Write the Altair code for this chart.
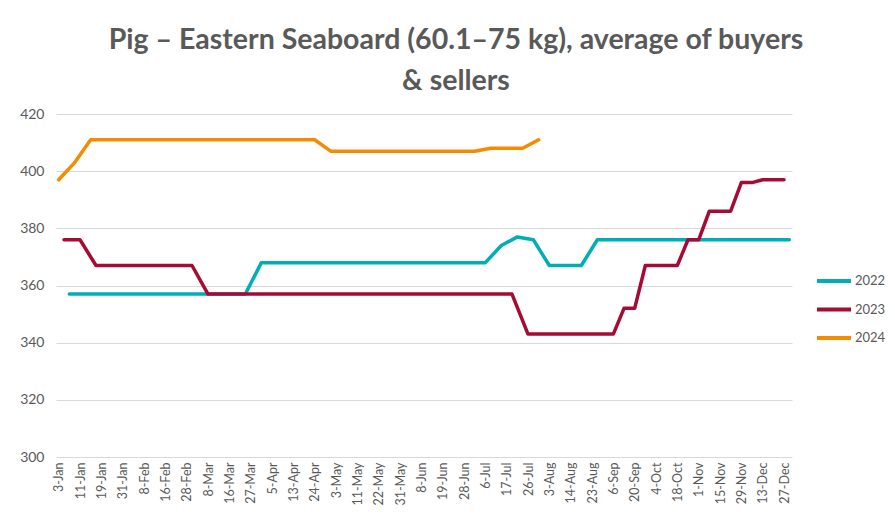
import altair as alt
import pandas as pd

# Category positions (union of auction dates, index) and tick labels (every 4th category)
tick_labels = ["3-Jan", "11-Jan", "19-Jan", "31-Jan", "8-Feb", "16-Feb", "28-Feb", "8-Mar",
               "16-Mar", "27-Mar", "5-Apr", "13-Apr", "24-Apr", "3-May", "11-May", "22-May",
               "31-May", "8-Jun", "19-Jun", "28-Jun", "6-Jul", "17-Jul", "26-Jul", "3-Aug",
               "14-Aug", "23-Aug", "6-Sep", "20-Sep", "4-Oct", "18-Oct", "1-Nov", "15-Nov",
               "29-Nov", "13-Dec", "27-Dec"]
n_categories = 138

x_2022 = [2, 5, 8, 11, 14, 17, 20, 23, 26, 29, 32, 35, 38, 41, 44, 47, 50, 53, 56, 59, 62, 65,
          68, 71, 74, 77, 80, 83, 86, 89, 92, 95, 98, 101, 103, 105, 107, 109, 111, 113, 115,
          117, 119, 121, 123, 125, 127, 129, 131, 133, 135, 137]
v_2022 = [357, 357, 357, 357, 357, 357, 357, 357, 357, 357, 357, 357,
          368, 368, 368, 368, 368, 368, 368, 368, 368, 368, 368, 368, 368, 368, 368,
          374, 377, 376, 367, 367, 367, 376,
          376, 376, 376, 376, 376, 376, 376, 376, 376, 376, 376, 376, 376, 376, 376, 376, 376, 376]

x_2023 = [1, 4, 7, 10, 13, 16, 19, 22, 25, 28, 31, 34, 37, 40, 43, 46, 49, 52, 55, 58, 61, 64,
          67, 70, 73, 76, 79, 82, 85, 88, 91, 94, 97, 100, 102, 104, 106, 108, 110, 112, 114,
          116, 118, 120, 122, 124, 126, 128, 130, 132, 134, 136]
v_2023 = [376, 376, 367, 367, 367, 367, 367, 367, 367,
          357, 357, 357, 357, 357, 357, 357, 357, 357, 357, 357, 357, 357, 357, 357, 357, 357,
          357, 357, 357, 343, 343, 343, 343, 343, 343, 343,
          352, 352, 367, 367, 367, 367, 376, 376, 386, 386, 386, 396, 396, 397, 397, 397]

x_2024 = [0, 3, 6, 9, 12, 15, 18, 21, 24, 27, 30, 33, 36, 39, 42, 45, 48, 51, 54, 57, 60, 63,
          66, 69, 72, 75, 78, 81, 84, 87, 90]
v_2024 = [397, 403, 411, 411, 411, 411, 411, 411, 411, 411, 411, 411, 411, 411, 411, 411, 411,
          407, 407, 407, 407, 407, 407, 407, 407, 407, 407, 408, 408, 408, 411]

series_names = ["2022", "2023", "2024"]
series_colors = ["#00AFB5", "#A50B35", "#F58B00"]

rows = []
for name, xs, vs in [("2022", x_2022, v_2022), ("2023", x_2023, v_2023), ("2024", x_2024, v_2024)]:
    for i, (xx, vv) in enumerate(zip(xs, vs)):
        rows.append({"idx": xx, "value": vv, "year": name, "order": i})
df = pd.DataFrame(rows)

label_array = "[" + ",".join("'" + s + "'" for s in tick_labels) + "]"
tick_values = [i * 4 for i in range(len(tick_labels))]

FONT = "Lato"
GREY = "#595959"

chart = alt.Chart(df).mark_line(strokeWidth=3.5, strokeCap="round", strokeJoin="round").encode(
    x=alt.X("idx:Q",
            scale=alt.Scale(domain=[-0.5, n_categories - 0.5], nice=False, zero=False),
            axis=alt.Axis(values=tick_values, labelExpr=label_array + "[datum.value/4]",
                          labelAngle=-90, labelPadding=5, labelFontSize=12.5,
                          labelColor=GREY, labelFont=FONT, domain=False, ticks=False,
                          grid=False, title=None, labelOverlap=False)),
    y=alt.Y("value:Q",
            scale=alt.Scale(domain=[300, 420], nice=False, zero=False),
            axis=alt.Axis(values=[300, 320, 340, 360, 380, 400, 420], labelPadding=12,
                          labelFontSize=14, labelColor=GREY, labelFont=FONT, domain=False,
                          ticks=False, tickSize=0, gridColor="#D9D9D9", gridWidth=1.2,
                          title=None)),
    color=alt.Color("year:N",
                    scale=alt.Scale(domain=series_names, range=series_colors),
                    legend=alt.Legend(title=None, orient="none", legendX=759, legendY=157,
                                      symbolType="stroke", symbolSize=1156,
                                      symbolStrokeWidth=4, clipHeight=20, rowPadding=8.5,
                                      labelOffset=2, labelFontSize=13, labelColor=GREY,
                                      labelFont=FONT, padding=0)),
    order="order:Q",
).properties(
    width=736,
    height=343,
    title=alt.TitleParams(
        ["Pig – Eastern Seaboard (60.1–75 kg), average of buyers", "& sellers"],
        font=FONT, fontSize=28.5, fontWeight=700, color=GREY, anchor="middle",
        frame="group", offset=12, dx=32, lineHeight=41),
    autosize=alt.AutoSizeParams(type="none"),
    padding={"left": 48, "top": 106, "right": 95, "bottom": 60},
).configure(background="white", view=alt.ViewConfig(stroke=None))

chart.save("out.html", embed_options={"renderer": "svg", "actions": False})
